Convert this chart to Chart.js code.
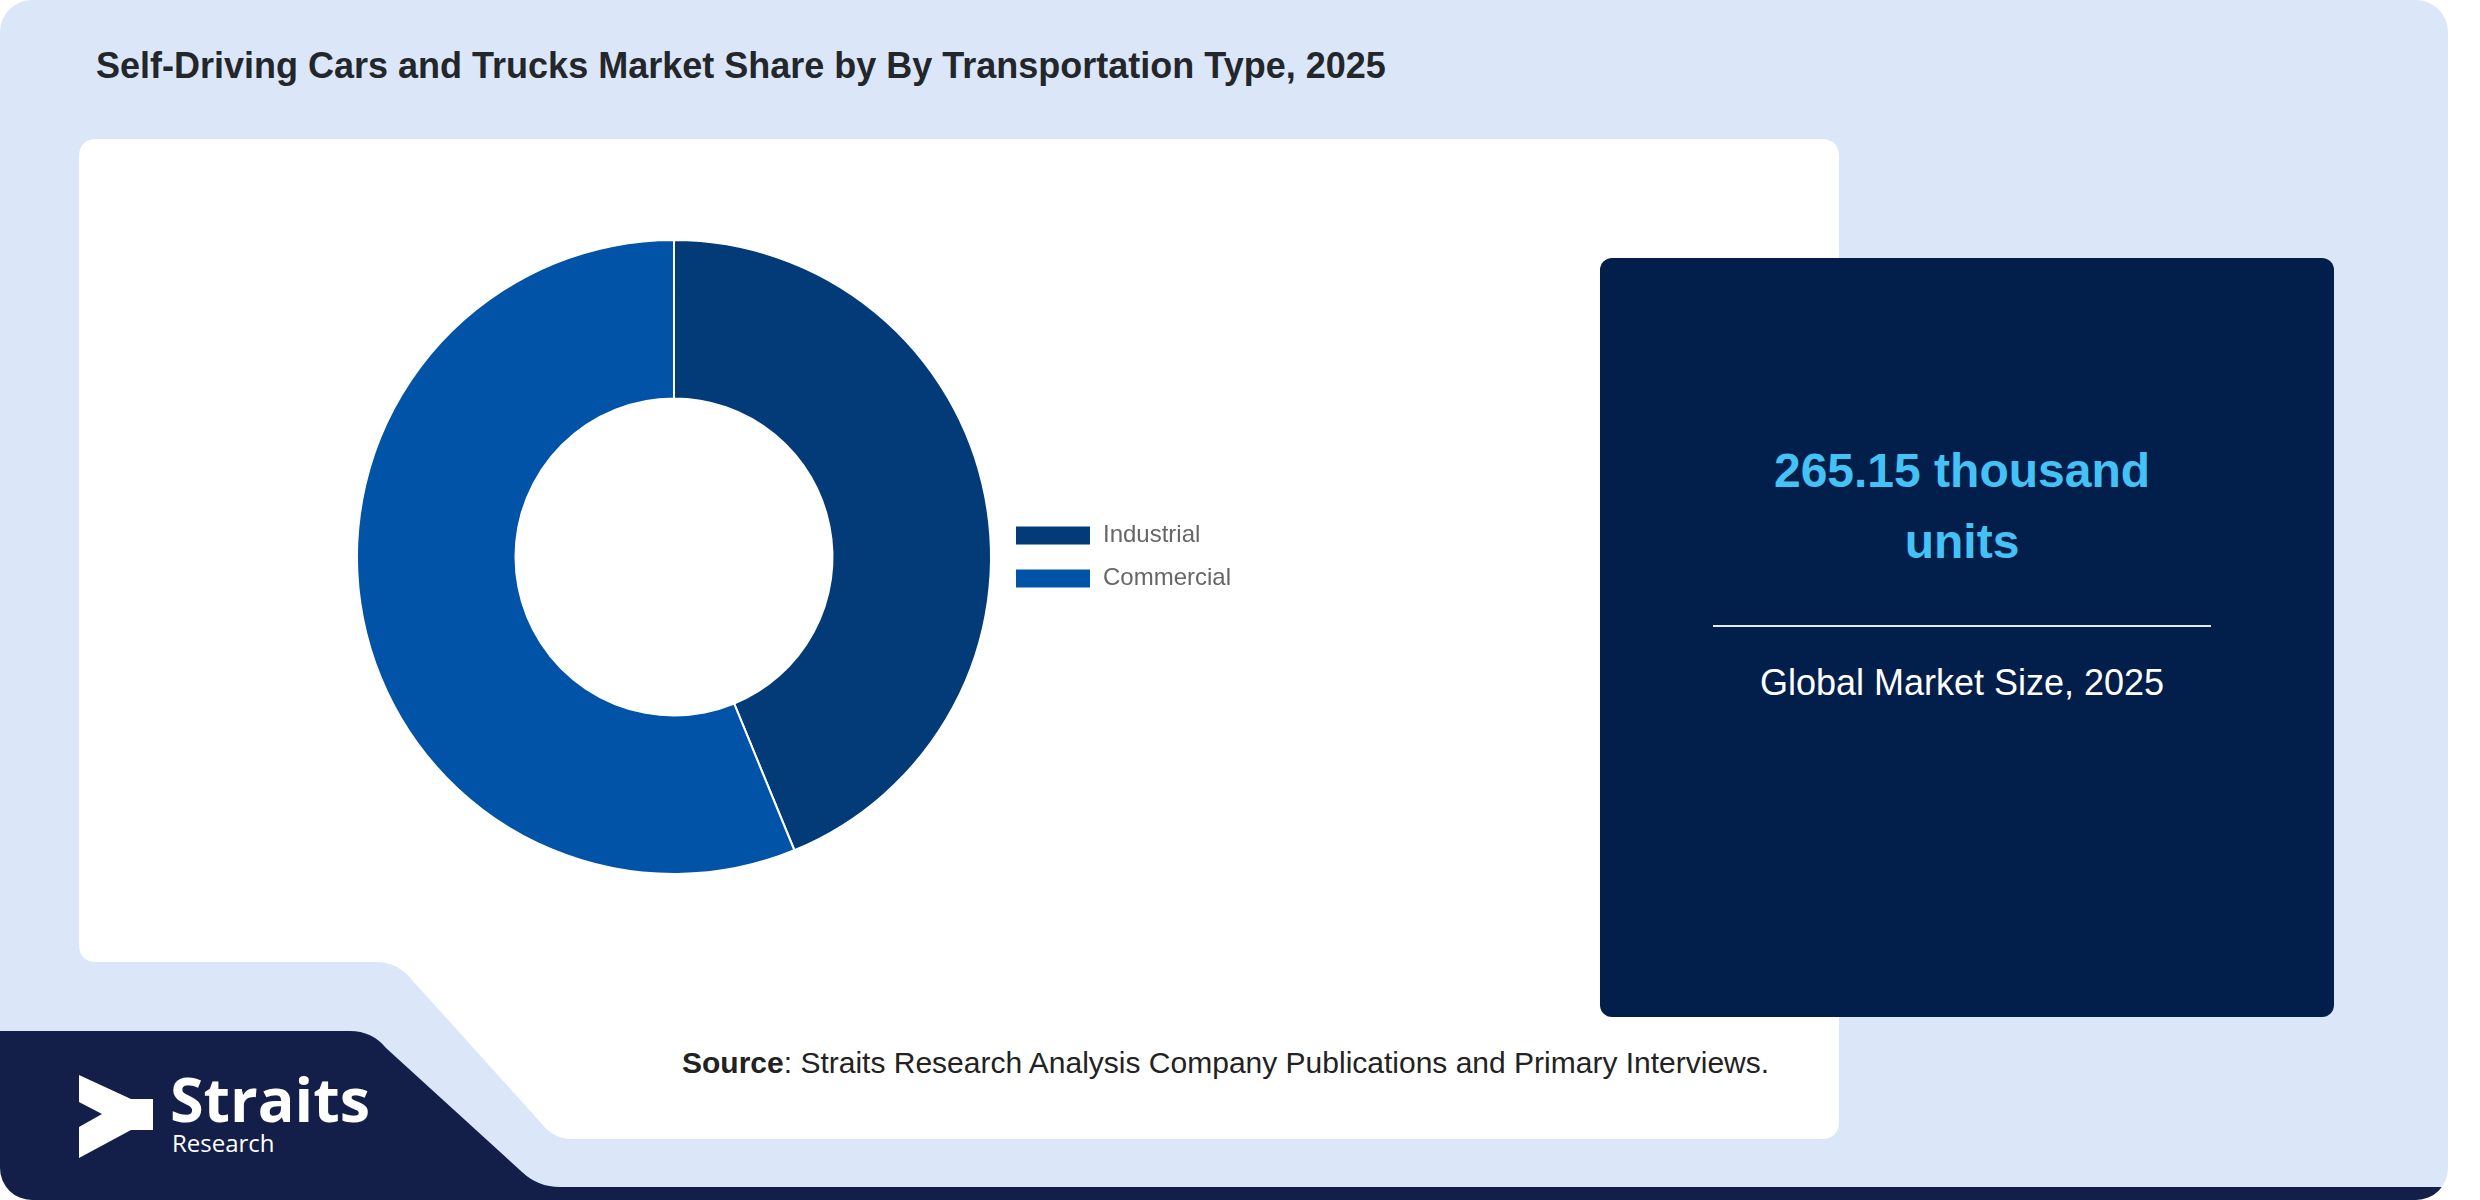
<!DOCTYPE html>
<html lang="en">

<head>
    <meta charset="UTF-8">
    <title>Self-Driving Cars and Trucks Market Share by Transportation Type</title>
    <script src="https://cdn.jsdelivr.net/npm/chart.js"></script>
    <style>
        * {
            margin: 0;
            padding: 0;
            box-sizing: border-box;
        }

        body {
            width: 2480px;
            height: 1200px;
            overflow: hidden;
            background: #ffffff;
            font-family: 'Liberation Sans', Arial, sans-serif;
            position: relative;
        }

        .bg {
            position: absolute;
            left: 0;
            top: 0;
        }

        .txt {
            position: absolute;
            line-height: 1;
            white-space: nowrap;
            transform: translateY(-50%);
        }

        .title {
            left: 96px;
            top: 66px;
            font-size: 36px;
            font-weight: bold;
            color: #23272b;
        }

        .chart-box {
            position: absolute;
            left: 352px;
            top: 239px;
            width: 889px;
            height: 636px;
        }

        .value {
            position: absolute;
            left: 1595px;
            width: 734px;
            top: 435px;
            text-align: center;
            font-size: 48px;
            line-height: 71px;
            font-weight: bold;
            color: #45c2f5;
        }

        .divider {
            position: absolute;
            left: 1713px;
            width: 498px;
            top: 625px;
            height: 2px;
            background: #e4e9f0;
        }

        .caption {
            left: 1595px;
            width: 734px;
            top: 683px;
            text-align: center;
            font-size: 36px;
            color: #ffffff;
        }

        .source {
            left: 682px;
            top: 1063px;
            font-size: 30px;
            color: #222;
        }

        .logo-name {
            position: absolute;
            left: 170px;
            top: 1076px;
            font-family: 'Open Sans', sans-serif;
            font-weight: bold;
            font-size: 61px;
            line-height: 46px;
            height: 46px;
            color: #fff;
        }

        .logo-sub {
            position: absolute;
            left: 172px;
            top: 1133px;
            font-family: 'Open Sans', sans-serif;
            font-size: 24px;
            line-height: 20px;
            height: 20px;
            color: #fff;
        }
    </style>
</head>

<body>
    <svg class="bg" width="2480" height="1200" viewBox="0 0 2480 1200">
        <defs>
            <clipPath id="outer">
                <rect x="0" y="0" width="2448" height="1200" rx="32" ry="32" />
            </clipPath>
        </defs>
        <g clip-path="url(#outer)">
            <rect x="0" y="0" width="2448" height="1200" fill="#dbe7f8" />
            <!-- navy corner block -->
            <path d="M0,1031 L350,1031 Q372,1031 386,1048 L522,1172 Q538,1187 560,1187 L2448,1187 L2448,1200 L0,1200 Z"
                fill="#131f48" />
        </g>
        <!-- white chart panel -->
        <path d="M79,157 Q79,139 97,139 L1821,139 Q1839,139 1839,157 L1839,1121 Q1839,1139 1821,1139 L572,1139
                 Q554,1139 542,1124 L412,980 Q398,962 376,962 L97,962 Q79,962 79,944 Z" fill="#ffffff" />
        <!-- right dark card -->
        <rect x="1600" y="258" width="734" height="759" rx="12" ry="12" fill="#011f4a" />
        <!-- logo mark -->
        <polygon points="79,1075 131,1099 153,1099 153,1130 131,1130 79,1158 79,1127 102,1114 79,1102"
            fill="#ffffff" />
    </svg>

    <div class="txt title">Self-Driving Cars and Trucks Market Share by By Transportation Type, 2025</div>

    <div class="chart-box">
        <canvas id="shareChart" width="889" height="636"></canvas>
    </div>

    <div class="value">265.15 thousand<br>units</div>
    <div class="divider"></div>
    <div class="txt caption">Global Market Size, 2025</div>

    <div class="txt source"><b>Source</b>: Straits Research Analysis Company Publications and Primary Interviews.</div>

    <div class="logo-name">Straits</div>
    <div class="logo-sub">Research</div>

    <script>
        // transportation type shares, 2025 (%)
        const categories = ['Industrial', 'Commercial'];
        const shares = [43.8, 56.2];

        const ctx = document.getElementById('shareChart').getContext('2d');
        const shareChart = new Chart(ctx, {
            type: 'doughnut',
            data: {
                labels: categories,
                datasets: [{
                    data: shares,
                    backgroundColor: ['#023b78', '#0053a6'],
                    borderColor: '#ffffff',
                    borderWidth: 2
                }]
            },
            options: {
                responsive: false,
                animation: false,
                cutout: '50%',
                layout: { padding: 0 },
                plugins: {
                    tooltip: { enabled: false },
                    legend: {
                        position: 'right',
                        labels: {
                            boxWidth: 76,
                            boxHeight: 20,
                            padding: 19,
                            color: '#666',
                            font: { family: "'Liberation Sans', Arial, sans-serif", size: 24 }
                        }
                    }
                }
            }
        });
    </script>
</body>

</html>
